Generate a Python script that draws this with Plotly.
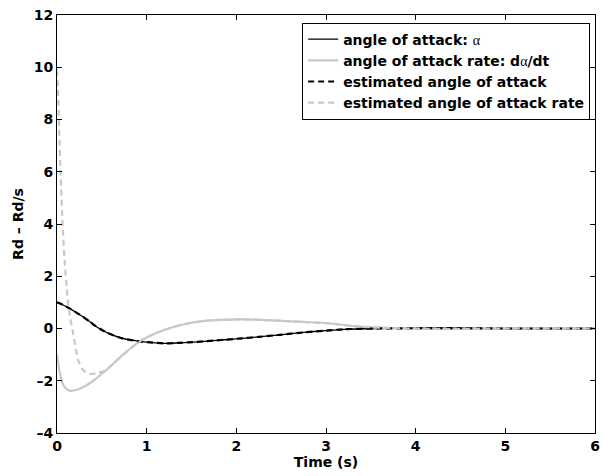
import plotly.graph_objects as go

# Angle of attack response (rad) vs time (s)
t_alpha = [0, 0.07, 0.14, 0.22, 0.29, 0.37, 0.44, 0.57, 0.73, 0.92, 1.1, 1.21, 1.36,
           1.47, 1.65, 1.84, 2.02, 2.25, 2.46, 2.75, 3.0, 3.2, 3.57, 4.0, 4.5, 5.0, 5.5, 6.0]
alpha = [1.0, 0.9, 0.77, 0.6, 0.45, 0.25, 0.07, -0.18, -0.38, -0.49, -0.55, -0.57, -0.55,
         -0.53, -0.49, -0.44, -0.39, -0.32, -0.25, -0.15, -0.08, -0.03, 0.0, 0.01, 0.01, 0.0, 0.0, 0.0]

# Angle of attack rate (rad/s)
t_rate = [0, 0.033, 0.07, 0.125, 0.18, 0.29, 0.4, 0.55, 0.73, 0.92, 1.1, 1.29, 1.47,
          1.65, 1.84, 2.02, 2.2, 2.46, 2.75, 3.02, 3.38, 3.9, 4.5, 5.0, 6.0]
rate = [-1.0, -1.72, -2.16, -2.36, -2.38, -2.25, -2.01, -1.59, -1.02, -0.5, -0.18, 0.05, 0.2,
        0.29, 0.33, 0.35, 0.34, 0.3, 0.25, 0.2, 0.07, 0.0, -0.02, 0.0, 0.0]

# Observer estimates
t_est_alpha = list(t_alpha)
est_alpha = list(alpha)

t_est_rate = [0, 0.015, 0.025, 0.04, 0.063, 0.085, 0.107, 0.125, 0.15, 0.18, 0.235, 0.29,
              0.365, 0.44, 0.5, 0.55, 0.73, 0.92, 1.1, 1.29, 1.47, 1.65, 1.84, 2.02, 2.2,
              2.46, 2.75, 3.02, 3.38, 3.9, 4.5, 5.0, 6.0]
est_rate = [9.9, 8.75, 7.5, 5.95, 3.9, 2.6, 1.6, 0.9, 0.35, -0.18, -1.2, -1.59,
            -1.74, -1.72, -1.66, -1.59, -1.02, -0.5, -0.18, 0.05, 0.2, 0.29, 0.33, 0.35, 0.34,
            0.3, 0.25, 0.2, 0.07, 0.0, -0.02, 0.0, 0.0]

x_ticks = [0, 1, 2, 3, 4, 5, 6]
y_ticks = [-4, -2, 0, 2, 4, 6, 8, 10, 12]
y_tick_text = ["\u20134", "\u20132", "0", "2", "4", "6", "8", "10", "12"]

GRAY = "#c8c8c8"
FONT = "DejaVu Sans, Verdana, sans-serif"
ALPHA = '<span style="font-family:Liberation Serif, Times New Roman, serif; font-weight:normal">\u03b1</span>'

fig = go.Figure()
fig.add_trace(go.Scatter(x=t_alpha, y=alpha, mode="lines",
                         line=dict(color="black", width=1.3, shape="spline", smoothing=0.8),
                         name="angle of attack: " + ALPHA))
fig.add_trace(go.Scatter(x=t_rate, y=rate, mode="lines",
                         line=dict(color=GRAY, width=2.2, shape="spline", smoothing=0.8),
                         name="angle of attack rate: d" + ALPHA + "/dt"))
fig.add_trace(go.Scatter(x=t_est_alpha, y=est_alpha, mode="lines",
                         line=dict(color="black", width=2.2, dash="6px,4px", shape="spline", smoothing=0.8),
                         name="estimated angle of attack"))
fig.add_trace(go.Scatter(x=t_est_rate, y=est_rate, mode="lines",
                         line=dict(color=GRAY, width=2.2, dash="6px,4px", shape="spline", smoothing=0.6),
                         name="estimated angle of attack rate"))

axis_common = dict(showgrid=False, zeroline=False, showline=True, linecolor="black",
                   linewidth=1, mirror="ticks", ticks="inside", ticklen=5,
                   tickcolor="black", tickwidth=1,
                   tickfont=dict(family=FONT, size=14, color="black", weight="bold"))

fig.update_layout(
    width=605, height=476,
    margin=dict(l=57, r=5, t=15, b=43),
    paper_bgcolor="white", plot_bgcolor="white",
    font=dict(family=FONT, color="black", weight="bold"),
    xaxis=dict(range=[0, 6], tickvals=x_ticks, ticktext=[str(v) for v in x_ticks],
               title=dict(text="Time (s)", font=dict(family=FONT, size=14, weight="bold"), standoff=0),
               **axis_common),
    yaxis=dict(range=[-4, 12], tickvals=y_ticks, ticktext=y_tick_text,
               title=dict(text="Rd \u2013 Rd/s", font=dict(family=FONT, size=14, weight="bold"), standoff=6),
               **axis_common),
    legend=dict(x=0.991, y=0.982, xanchor="right", yanchor="top",
                bgcolor="white", bordercolor="black", borderwidth=1,
                font=dict(family=FONT, size=14, color="black", weight="bold"),
                tracegroupgap=0, itemwidth=30),
    showlegend=True,
)

fig.write_html("out.html")
